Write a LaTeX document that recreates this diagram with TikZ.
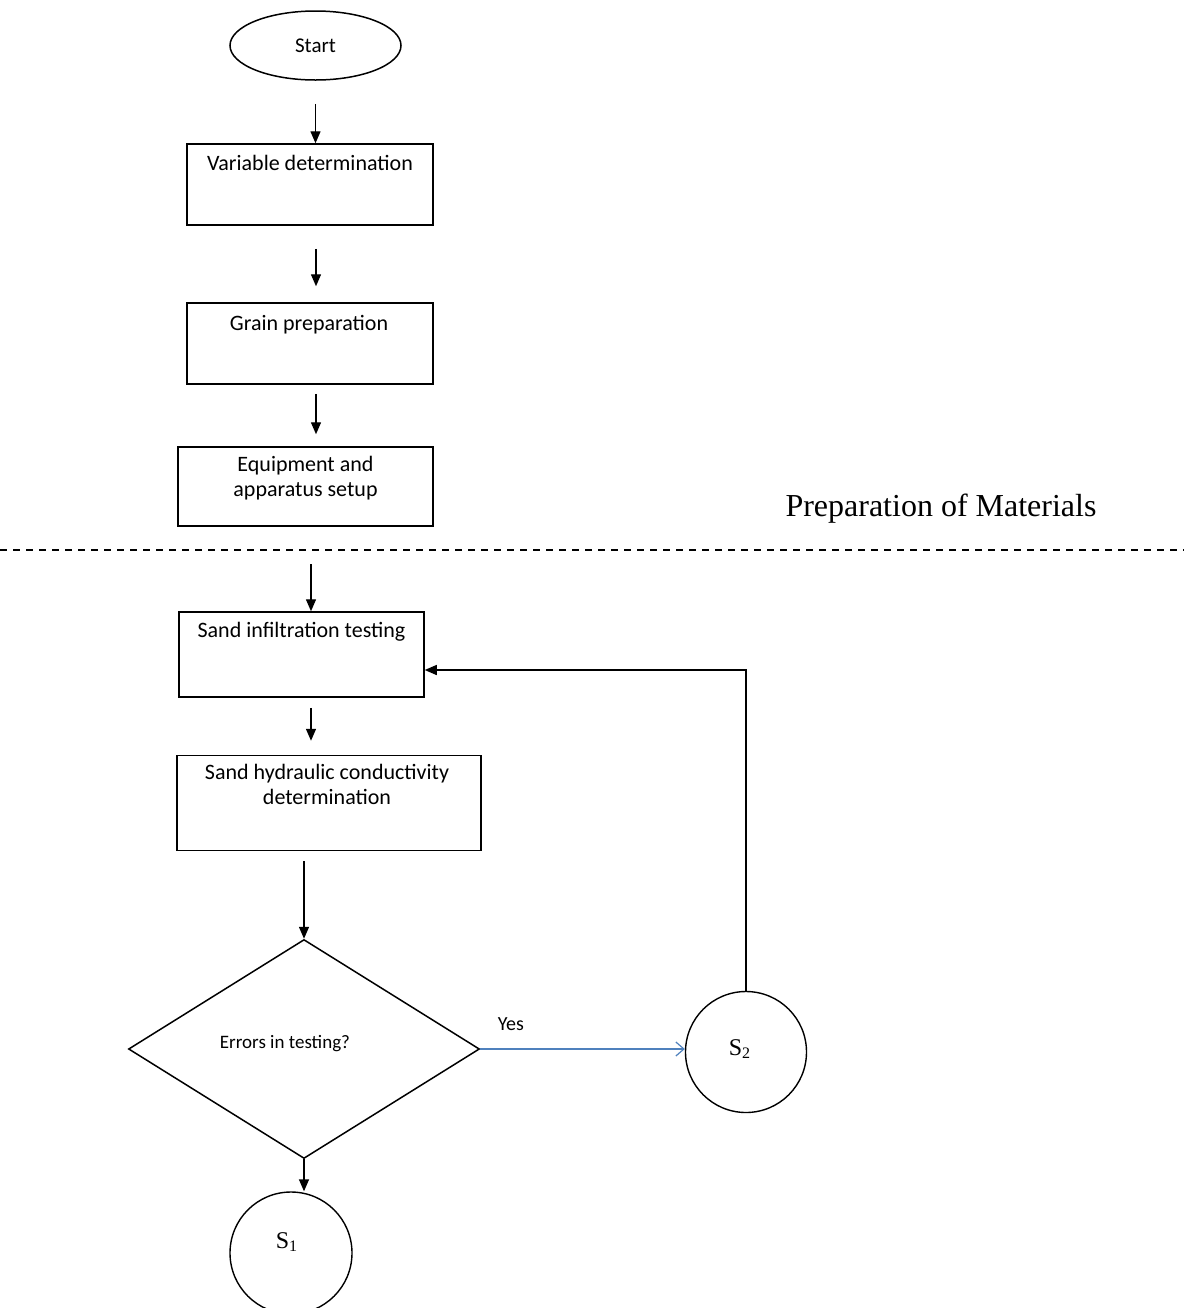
\documentclass[tikz,border=0pt]{standalone}
\usepackage{fontspec}
\setmainfont{Liberation Serif}
\newfontfamily\calfont{Carlito}
\usetikzlibrary{arrows.meta,shapes.geometric,calc}
\definecolor{yesblue}{RGB}{79,129,189}
\begin{document}
\begin{tikzpicture}[x=0.5pt,y=-0.5pt,
  box/.style={draw, line width=0.75pt, rectangle, inner sep=0pt},
  boxtxt/.style={font=\calfont\fontsize{11}{12.5}\selectfont, inner sep=0pt, align=center},
  smalltxt/.style={font=\calfont\fontsize{9.5}{11}\selectfont, inner sep=0pt},
  arr/.style={line width=0.7pt, -{Triangle[length=6pt,width=5pt]}},
  yesarr/.style={yesblue, line width=0.6pt, -{Straight Barb[length=4pt,width=7pt]}},
  stnode/.style={draw, circle, line width=0.7pt, inner sep=0pt},
  divider/.style={line width=0.7pt, dash pattern=on 3.5pt off 3pt}
]
\useasboundingbox (0,0) rectangle (1184,1308);

% nodes
\node[draw, ellipse, line width=0.75pt, minimum width=85.5pt, minimum height=34.5pt,
      inner sep=0pt, font=\calfont\fontsize{10.5}{12}\selectfont] (start) at (315.5,45.5) {Start};

\node[box, minimum width=123pt, minimum height=40.5pt] (b1) at (310,184.5) {};
\node[boxtxt, anchor=base] (t1) at ($(b1.north)+(0,27)$) {Variable determination};

\node[box, minimum width=123pt, minimum height=40.5pt] (b2) at (310,343.5) {};
\node[boxtxt, anchor=base] (t2) at ($(b2.north)+(-1,28)$) {Grain preparation};

\node[box, minimum width=127.5pt, minimum height=39.5pt] (b3) at (305.5,486.5) {};
\node[boxtxt, anchor=north] (t3) at ($(b3.north)+(0,10)$) {Equipment and\\apparatus setup};

\node[box, minimum width=122.5pt, minimum height=42.5pt] (b4) at (301.5,654.5) {};
\node[boxtxt, anchor=base] (t4) at ($(b4.north)+(0,26)$) {Sand infiltration testing};

\node[box, minimum width=152pt, minimum height=47.5pt] (b5) at (329,803) {};
\node[boxtxt, anchor=north] (t5) at ($(b5.north)+(-2,9)$) {Sand hydraulic conductivity\\determination};

\node[draw, diamond, line width=0.75pt, minimum width=175.5pt, minimum height=109.5pt, inner sep=0pt] (dec) at (304,1049) {};
\node[smalltxt, anchor=base] (t6) at ($(dec.center)+(-19,-1)$) {Errors in testing?};

\node[stnode, minimum size=60.5pt] (s2) at (746,1052) {};
\node[inner sep=0pt, font=\fontsize{12}{14}\selectfont] (s2t) at ($(s2.center)+(-6,-3)$) {S\textsubscript{2}};

\node[stnode, minimum size=61pt] (s1) at (291,1253) {};
\node[inner sep=0pt, font=\fontsize{12}{14}\selectfont] (s1t) at ($(s1.center)+(-4,-11)$) {S\textsubscript{1}};

\node[inner sep=0pt, anchor=base, font=\fontsize{16}{19}\selectfont] (prep) at (941,516) {Preparation of Materials};

\coordinate (dl) at (0,550);
\coordinate (dr) at (1184,550);
\draw[divider] (dl) -- (dr);

% connectors
\draw[arr] ($(start.south)+(0,23)$) -- (start.south |- b1.north);
\draw[arr] ($(b1.south)+(6,23)$) -- ($(b2.north)+(6,-16)$);
\draw[arr] ($(b2.south)+(6,9)$) -- ($(b3.north)+(10.5,-12)$);
\draw[arr] ($(b4.north)+(9.5,-47)$) -- ($(b4.north)+(9.5,0)$);
\draw[arr] ($(b4.south)+(9.5,10)$) -- ($(b5.north)+(-18,-14)$);
\draw[arr] ([yshift=-5pt]b5.south -| dec.north) -- (dec.north);
\draw[arr] (dec.south) -- (dec.south |- s1.north);
\draw[yesarr] (dec.east) -- (s2.west |- dec.east)
  node[pos=0.15, above=9pt, text=black, font=\calfont\fontsize{10}{12}\selectfont, inner sep=0pt] {Yes};
\draw[arr] (s2.north) |- ($(b4.east)+(0,15.5)$);
\end{tikzpicture}
\end{document}
